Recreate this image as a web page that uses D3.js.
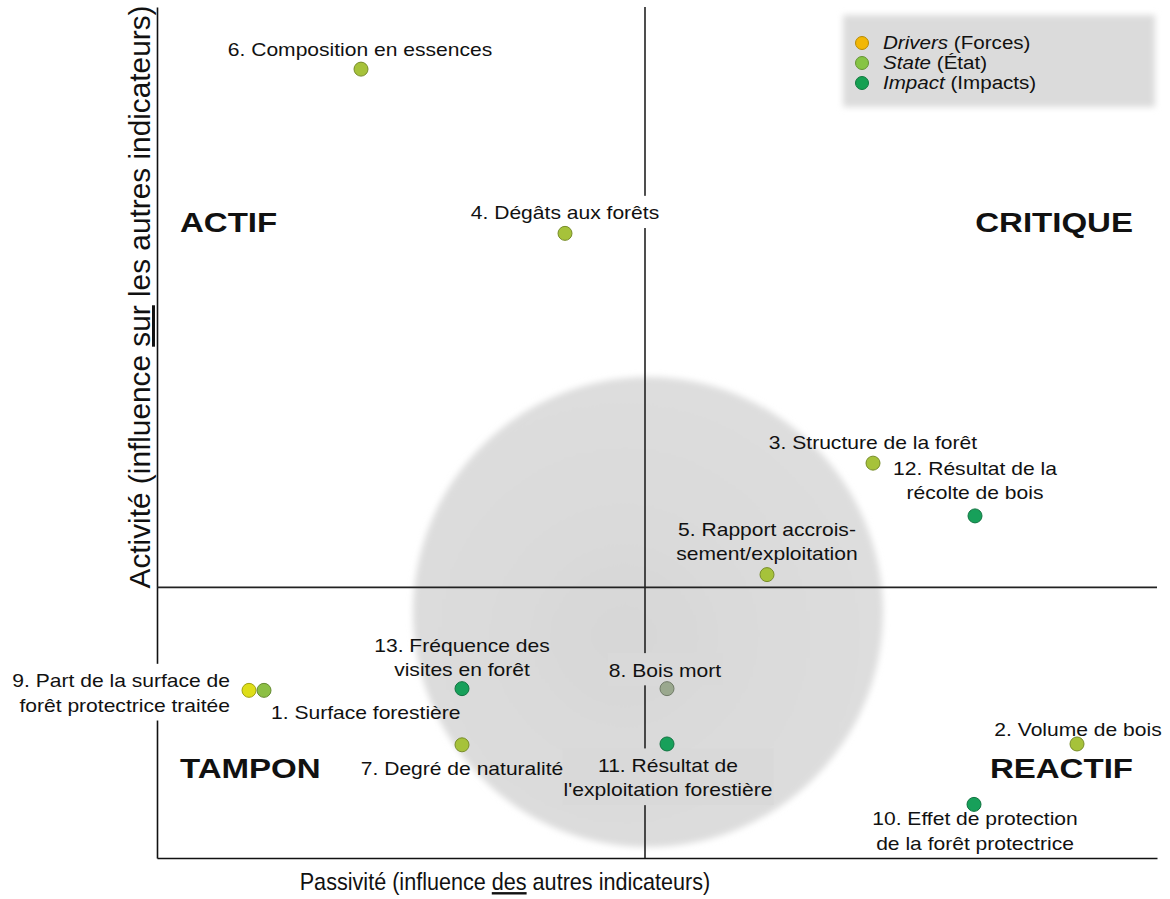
<!DOCTYPE html>
<html>
<head>
<meta charset="utf-8">
<script src="https://cdn.jsdelivr.net/npm/d3@7"></script>
<style>
  body { margin: 0; background: #fff; }
  svg { display: block; font-family: "Liberation Sans", Arial, sans-serif; }
</style>
</head>
<body>
<div id="chart"></div>
<script>
// indicator scores (passivity = x, activity = y), arbitrary 0-100 units
var ids        = [6, 4, 3, 12, 5, 9, 1, 13, 8, 2, 7, 11, 10]
var passivite  = [20.4, 40.8, 71.6, 81.8, 61.0, 9.2, 10.7, 30.5, 51.0, 92.0, 30.5, 51.0, 81.7]
var activite   = [92.7, 73.4, 46.4, 40.2, 33.3, 19.7, 19.7, 19.9, 19.9, 13.4, 13.3, 13.4, 6.3]
var categories = ["State","State","State","Impact","State","Drivers","State","Impact","State","State","State","Impact","Impact"]
var labels = [
  ["6. Composition en essences"],
  ["4. Dégâts aux forêts"],
  ["3. Structure de la forêt"],
  ["12. Résultat de la", "récolte de bois"],
  ["5. Rapport accrois-", "sement/exploitation"],
  ["9. Part de la surface de", "forêt protectrice traitée"],
  ["1. Surface forestière"],
  ["13. Fréquence des", "visites en forêt"],
  ["8. Bois mort"],
  ["2. Volume de bois"],
  ["7. Degré de naturalité"],
  ["11. Résultat de", "l'exploitation forestière"],
  ["10. Effet de protection", "de la forêt protectrice"]
]
var legendKeys   = ["Drivers", "State", "Impact"]
var legendNames  = ["(Forces)", "(État)", "(Impacts)"]
var quadrants    = ["ACTIF", "CRITIQUE", "TAMPON", "REACTIF"]
var meanPassivite = 48.8
var meanActivite  = 31.8
// grey zone: centre and radius in x units
var zone = {cx: 49.1, cy: 28.9, r: 23.5}

var w = 1170, h = 899
var colors = {Drivers: "#e3cf12", State: "#a6c23a", Impact: "#17a05a"}
var legendColors = {Drivers: "#f2b705", State: "#86c443", Impact: "#15a052"}
var tint = {8: "#9aa88e", 1: "#8cbf45", 9: "#dede18"}
var sx = 1.17

// label placement: offset of first baseline from point, anchor
var place = {
  6: [-1, -13, "middle"], 4: [0, -14, "middle"], 3: [0, -14, "middle"],
  12: [0, -41, "middle"], 5: [0, -39, "middle"], 9: [-19, -3, "end"],
  1: [7, 29, "start"], 13: [0, -37, "middle"], 8: [-2, -12, "middle"],
  2: [1, -8, "middle"], 7: [0, 30, "middle"], 11: [1, 28, "middle"],
  10: [1, 21, "middle"]
}
var lineH = 24.5

var svg = d3.select("#chart").append("svg").attr("width", w).attr("height", h)
var x = d3.scaleLinear().domain([0, 100]).range([157, 1157])
var y = d3.scaleLinear().domain([0, 100]).range([858, 7])

var defs = svg.append("defs")
defs.append("filter").attr("id", "soft").attr("x", "-10%").attr("y", "-10%").attr("width", "120%").attr("height", "120%")
  .append("feGaussianBlur").attr("stdDeviation", 3)
var grad = defs.append("radialGradient").attr("id", "zoneGrad").attr("cx", "45%").attr("cy", "55%").attr("r", "60%")
grad.append("stop").attr("offset", "0%").attr("stop-color", "#d7d7d7")
grad.append("stop").attr("offset", "100%").attr("stop-color", "#dedede")

// grey zone
svg.append("circle")
  .attr("cx", x(zone.cx)).attr("cy", y(zone.cy))
  .attr("r", x(zone.r) - x(0))
  .attr("fill", "url(#zoneGrad)")
  .attr("filter", "url(#soft)")

// legend box
var leg = svg.append("g").attr("transform", "translate(843,15)")
leg.append("rect").attr("width", 312).attr("height", 92).attr("fill", "#dbdbdb").attr("filter", "url(#soft)")
legendKeys.forEach(function(k, i){
  leg.append("circle").attr("cx", 19).attr("cy", 28 + i*20).attr("r", 6.5)
    .attr("fill", legendColors[k]).attr("stroke", d3.color(legendColors[k]).darker(0.8)).attr("stroke-width", 1)
  var t = leg.append("text").attr("transform", "translate(40," + (34 + i*20) + ") scale(" + sx + ",1)")
    .attr("font-size", 17.6).attr("fill", "#111")
  t.append("tspan").attr("font-style", "italic").text(k)
  t.append("tspan").text(" " + legendNames[i])
})

// axes and centre lines
svg.append("g").attr("transform", "translate(0," + y(0) + ")")
  .call(d3.axisBottom(x).tickValues([]).tickSizeOuter(0))
  .select(".domain").attr("stroke", "#111").attr("stroke-width", 1.6)
svg.append("g").attr("transform", "translate(" + x(0) + ",0)")
  .call(d3.axisLeft(y).tickValues([]).tickSizeOuter(0))
  .select(".domain").attr("stroke", "#111").attr("stroke-width", 1.6)
svg.append("line").attr("x1", x(meanPassivite)).attr("x2", x(meanPassivite)).attr("y1", y(0)).attr("y2", y(100))
  .attr("stroke", "#222").attr("stroke-width", 1.6)
svg.append("line").attr("x1", x(0)).attr("x2", x(100)).attr("y1", y(meanActivite)).attr("y2", y(meanActivite))
  .attr("stroke", "#222").attr("stroke-width", 1.6)

// quadrant names
var quadPos = [[2.3, 73.6, "start"], [97.6, 73.6, "end"], [2.3, 9.4, "start"], [97.6, 9.4, "end"]]
quadrants.forEach(function(q, i){
  svg.append("text")
    .attr("transform", "translate(" + x(quadPos[i][0]) + "," + y(quadPos[i][1]) + ") scale(1.18,1)")
    .attr("text-anchor", quadPos[i][2])
    .attr("font-size", 28).attr("font-weight", "bold").attr("fill", "#111")
    .text(q)
})

// points data
var points = ids.map(function(id, i){
  return {id: id, px: passivite[i], ac: activite[i], cat: categories[i], lines: labels[i]}
})

function inZone(px, py){
  var dx = px - x(zone.cx), dy = py - y(zone.cy)
  return Math.sqrt(dx*dx + dy*dy) < (x(zone.r) - x(0))
}

// labels: background boxes go in their own layer so they never hide other text
var boxLayer = svg.append("g")
var textLayer = svg.append("g")
points.forEach(function(d){
  var p = place[d.id]
  var ox = x(d.px) + p[0], oy = y(d.ac) + p[1]
  var tf = "translate(" + ox + "," + oy + ") scale(" + sx + ",1)"
  var t = textLayer.append("text").attr("transform", tf)
    .attr("font-size", 18).attr("fill", "#111").attr("text-anchor", p[2])
  d.lines.forEach(function(l, i){
    t.append("tspan").attr("x", 0).attr("y", i*lineH).text(l)
  })
  var bb = t.node().getBBox()
  var x0 = ox + bb.x*sx, x1 = ox + (bb.x + bb.width)*sx
  var y0 = oy + bb.y, y1 = oy + bb.y + bb.height
  var hit = [x(0), x(meanPassivite)].some(function(v){ return v > x0 && v < x1 }) ||
            (y(meanActivite) > y0 - 4 && y(meanActivite) < y1 + 4)
  if(hit){
    boxLayer.append("rect").attr("transform", tf)
      .attr("x", bb.x - 1).attr("y", bb.y - 7)
      .attr("width", bb.width + 2).attr("height", bb.height + 12)
      .attr("fill", inZone((x0 + x1)/2, (y0 + y1)/2) ? "#d9d9d9" : "#fff")
  }
})

// points
svg.selectAll(".pt").data(points).enter().append("circle")
  .attr("class", "pt")
  .attr("cx", function(d){ return x(d.px) })
  .attr("cy", function(d){ return y(d.ac) })
  .attr("r", 7)
  .attr("fill", function(d){ return tint[d.id] || colors[d.cat] })
  .attr("stroke", function(d){ return d3.color(tint[d.id] || colors[d.cat]).darker(0.9) })
  .attr("stroke-width", 1)

// axis titles
var xt = svg.append("text").attr("transform", "translate(505,890) scale(0.9,1)")
  .attr("text-anchor", "middle").attr("font-size", 24).attr("fill", "#111")
xt.append("tspan").text("Passivité (influence ")
xt.append("tspan").attr("text-decoration", "underline").text("des")
xt.append("tspan").text(" autres indicateurs)")

var yt = svg.append("text").attr("transform", "translate(150,297) rotate(-90)")
  .attr("text-anchor", "middle").attr("font-size", 29.8).attr("fill", "#111")
yt.append("tspan").text("Activité (influence ")
yt.append("tspan").attr("text-decoration", "underline").text("sur")
yt.append("tspan").text(" les autres indicateurs)")
</script>
</body>
</html>
